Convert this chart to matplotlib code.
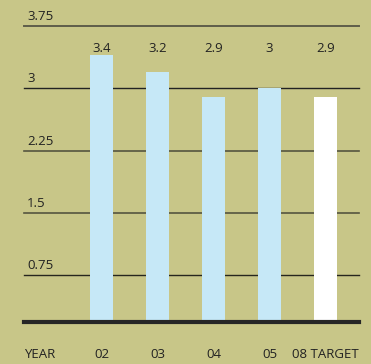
import matplotlib.pyplot as plt

# valeurs par année
annees = ['02', '03', '04', '05', '08 TARGET']
valeurs = [3.4, 3.2, 2.9, 3, 2.9]
couleurs = ['#c6e8f7', '#c6e8f7', '#c6e8f7', '#c6e8f7', '#ffffff']
graduations = [0.75, 1.5, 2.25, 3, 3.75]
etiquettes_y = ['0.75', '1.5', '2.25', '3', '3.75']

fond = '#c8c688'
plt.rcParams['font.family'] = ['Open Sans', 'DejaVu Sans']

fig = plt.figure(figsize=(3.71, 3.64), dpi=100)
fig.patch.set_facecolor(fond)
ax = fig.add_axes([24/371, 42/364, 335/371, 296/364])
ax.set_facecolor(fond)
ax.set_xlim(-1.384, 4.598)
ax.set_ylim(0.19, 3.75)
for s in ax.spines.values():
    s.set_visible(False)
ax.set_xticks([])
ax.set_yticks([])

# lignes horizontales + étiquettes de l'axe
styles = {0.75: ('#26261e', 1.0), 1.5: ('#55553f', 1.2), 2.25: ('#55553f', 1.2),
          3: ('#222222', 1.0), 3.75: ('#5f5e4a', 1.4)}
for g, lab in zip(graduations, etiquettes_y):
    c, lw = styles[g]
    ax.axhline(g, color=c, lw=lw, clip_on=False, zorder=1)
    ax.annotate(lab, (-1.33, g), xytext=(0, 3), textcoords='offset pixels',
                ha='left', va='bottom', fontsize=9.5, color='#222222')

x = list(range(len(annees)))
ax.bar(x, valeurs, width=0.41, color=couleurs, zorder=2)
ax.axhline(0.19, color='#262626', lw=3, clip_on=False, zorder=3)

# valeurs au-dessus des barres
for i, v in enumerate(valeurs):
    ax.text(i, 3.48, str(v), ha='center', va='center', fontsize=9.5, color='#222222')

# libellés des années
ax.text(-1.384, -0.205, 'YEAR', ha='left', va='center', fontsize=9.5, color='#222222')
for i, a in enumerate(annees):
    ax.text(i, -0.205, a, ha='center', va='center', fontsize=9.5, color='#222222')

fig.savefig('out.png', dpi=100, facecolor=fond)
